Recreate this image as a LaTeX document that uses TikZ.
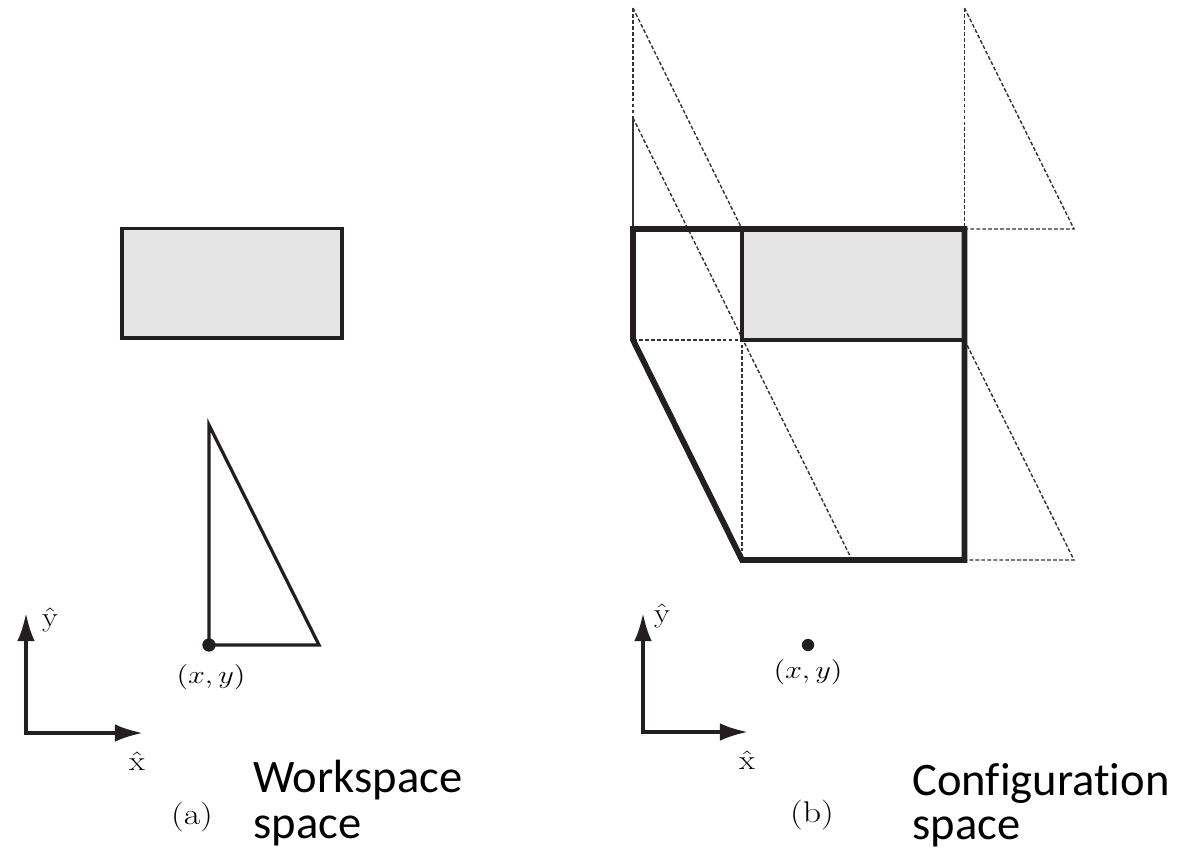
\documentclass[tikz,border=0pt]{standalone}
\usepackage{fontspec}
\usepackage{graphicx}
\usetikzlibrary{arrows.meta}
\newfontfamily\calibri[Ligatures={NoCommon}]{Carlito}
\definecolor{ink}{HTML}{231F20}
\definecolor{fillg}{HTML}{E5E5E5}
\definecolor{dashc}{HTML}{333333}
\newcommand{\mlab}[1]{\scalebox{1.2}[1]{#1}}
\begin{document}
\begin{tikzpicture}[x=0.02cm,y=-0.02cm,
  thinline/.style={draw=ink,line width=1.9pt,line join=miter},
  boldline/.style={draw=ink,line width=3.3pt,line join=miter},
  dashline/.style={draw=dashc,line width=0.8pt,dash pattern=on 2.2pt off 1.2pt},
  hairline/.style={draw=dashc,line width=0.8pt},
  axis/.style={draw=ink,line width=2pt,line join=miter,
    {Latex[length=16pt,width=10pt]}-{Latex[length=16pt,width=10pt]}},
  mathlab/.style={font=\fontsize{15.5}{17}\selectfont,inner sep=0pt},
  sublab/.style={font=\fontsize{17}{19}\selectfont,inner sep=0pt},
  bigtext/.style={font=\calibri\fontsize{26.5}{26}\selectfont,align=left,anchor=base west,inner sep=0pt}
]
\useasboundingbox (0,0) rectangle (1183,863);

% ---------------- (a) workspace ----------------
\coordinate (LR1) at (122,228.5);
\coordinate (LR2) at (342,338);
\draw[thinline,fill=fillg] (LR1) rectangle (LR2);

\coordinate (LTtop) at (209,425);
\coordinate (LTref) at (209,645);
\coordinate (LTr) at (319,645);
\draw[thinline] (LTtop) -- (LTref) -- (LTr) -- cycle;
\fill[ink] (LTref) circle (3.8pt);
\node[mathlab] (LTlab) at (211,677) {\mlab{$(x,y)$}};

\coordinate (LO) at (26,733);
\coordinate (LY) at (26,613);
\coordinate (LX) at (143,733);
\draw[axis] (LY) -- (LO) -- (LX);
\node[mathlab] (Lyhat) at (50,620) {\mlab{$\hat{\mathrm{y}}$}};
\node[mathlab] (Lxhat) at (137,761) {\mlab{$\hat{\mathrm{x}}$}};
\node[sublab] (Llab) at (192,817) {\mlab{(a)}};
\node[bigtext] (Wtext) at (253,838) {Workspace\\space};

% ---------------- (b) configuration space ----------------
\coordinate (A) at (633,229);
\coordinate (B) at (964.5,229);
\coordinate (C) at (964.5,560);
\coordinate (D) at (742,560);
\coordinate (E) at (633,340);
\coordinate (G1) at (742,229);
\coordinate (G3) at (742,340);
\coordinate (G2) at (964.5,340);

\coordinate (T1top) at (633,8);
\coordinate (T2top) at (633,118);
\coordinate (T4end) at (852,560);
\coordinate (T3top) at (964.5,8);
\coordinate (T3r) at (1074,229);
\coordinate (T5r) at (1074,560);

% dashed robot placements
\draw[dashline] (T1top) -- (T2top);
\draw[hairline] (T2top) -- (A);
\draw[dashline] (T1top) -- (G1);
\draw[dashline] (T2top) -- (T4end);
\draw[dashline] (E) -- (G3) -- (D);
\draw[dashline] (T3top) -- (B);
\draw[dashline] (T3top) -- (T3r) -- (B);
\draw[dashline] (G2) -- (T5r) -- (C);

% obstacle
\fill[fillg] (G1) rectangle (G2);
\draw[thinline] (G1) -- (G3) -- (G2);

% C-obstacle boundary
\draw[boldline] (A) -- (B) -- (C) -- (D) -- (E) -- cycle;

\coordinate (RO) at (643,732);
\coordinate (RY) at (643,613);
\coordinate (RX) at (748,732);
\draw[axis] (RY) -- (RO) -- (RX);
\node[mathlab] (Ryhat) at (662,616) {\mlab{$\hat{\mathrm{y}}$}};
\node[mathlab] (Rxhat) at (747,760) {\mlab{$\hat{\mathrm{x}}$}};
\coordinate (Rdot) at (808,645);
\fill[ink] (Rdot) circle (3.5pt);
\node[mathlab] (Rdlab) at (808,672) {\mlab{$(x,y)$}};
\node[sublab] (Rlab) at (812,815) {\mlab{(b)}};
\node[bigtext,font=\calibri\fontsize{26.5}{24.5}\selectfont] (Ctext) at (912,839) {Configuration\\space};
\end{tikzpicture}
\end{document}
